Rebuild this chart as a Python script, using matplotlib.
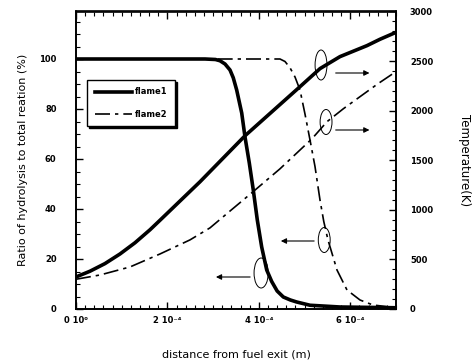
import numpy as np
import matplotlib.pyplot as plt
from matplotlib.patches import Ellipse


# distance along the flame (units of 1e-4 m) and hydrolysis ratio (%)
x_ratio1 = [0, 2.822, 3.05, 3.15, 3.26, 3.369, 3.44, 3.515, 3.625, 3.697, 3.791, 3.878, 3.966,
	4.062, 4.172, 4.281, 4.40, 4.535, 4.69, 4.828, 5.119, 5.775, 7.0]
ratio1 = [100, 100, 99.8, 99.3, 98.0, 95.6, 92.5, 87.6, 78.4, 68.8, 58.4, 47.6, 35.6,
	24.8, 15.6, 11.0, 7.2, 4.8, 3.6, 2.8, 1.5, 0.8, 0.5]

x_ratio2 = [0, 4.4625, 4.572, 4.681, 4.791, 4.9, 5.009, 5.119, 5.228, 5.3375,
	5.42, 5.5125, 5.709, 5.928, 6.2125, 6.497, 7.0]
ratio2 = [100, 100, 99, 96.5, 92.8, 87.6, 78, 67.6, 57, 43.6,
	35, 27.6, 15.6, 7.6, 3.6, 1.6, 0.5]

# temperature (K)
x_temp1 = [0, 0.306, 0.634, 0.9625, 1.291, 1.619, 1.8375, 2.7125, 3.697, 4.244,
	4.9, 5.3375, 5.775, 6.366, 6.65, 7.0]
temp1 = [323, 381, 458, 555, 668, 799, 895, 1283, 1747, 1972,
	2242, 2424, 2545, 2656, 2720, 2790]

x_temp2 = [0, 0.525, 1.181, 1.8375, 2.494, 2.931, 3.4, 3.872, 4.463, 5.1625, 5.491, 5.85,
	6.2125, 6.6, 7.0]
temp2 = [300, 343, 424, 555, 697, 818, 1000, 1182, 1414, 1717, 1889, 2020,
	2141, 2270, 2394]

series_labels = ["flame1", "flame2"]
xtick_vals = [0, 2, 4, 6]
xtick_labels = ["0 10\u2070", "2 10\u207b\u2074", "4 10\u207b\u2074", "6 10\u207b\u2074"]

scale = 1e-4

plt.rcParams["font.family"] = "DejaVu Sans"
plt.rcParams["font.weight"] = "bold"

fig = plt.figure(figsize=(4.76, 3.64), dpi=100)
ax = fig.add_axes([76/476, 55/364, 320/476, 297.5/364])
ax2 = ax.twinx()

dashes = (9, 3, 2, 3)
ax.plot(np.array(x_ratio1)*scale, ratio1, color="black", lw=2.6, label=series_labels[0])
ax.plot(np.array(x_ratio2)*scale, ratio2, color="black", lw=1.2, dashes=dashes, label=series_labels[1])
ax2.plot(np.array(x_temp1)*scale, temp1, color="black", lw=2.6)
ax2.plot(np.array(x_temp2)*scale, temp2, color="black", lw=1.2, dashes=dashes)

ax.set_xlim(0, 7e-4)
ax.set_ylim(0, 119)
ax2.set_ylim(0, 3000)

ax.set_xticks(np.arange(0, 7.01, 0.2)*scale, minor=True)
ax.set_xticks(np.array(xtick_vals)*scale, minor=False)
ax.set_xticklabels(xtick_labels)
ax.set_yticks([0, 20, 40, 60, 80, 100])
ax.set_yticks(np.arange(0, 119, 5), minor=True)
ax2.set_yticks([0, 500, 1000, 1500, 2000, 2500, 3000])
ax2.set_yticks(np.arange(0, 3001, 100), minor=True)

ax.tick_params(axis="both", which="both", direction="in", top=True, right=False, labelsize=6)
ax.tick_params(axis="x", which="major", length=5, width=1, pad=5)
ax.tick_params(axis="y", which="major", length=5, width=1, pad=14)
ax.tick_params(which="minor", length=3, width=0.8)
ax2.tick_params(axis="y", which="both", direction="in", labelsize=6, pad=10)
ax2.tick_params(which="major", length=5, width=1)
ax2.tick_params(which="minor", length=3, width=0.8)

for a in (ax, ax2):
	for s in a.spines.values():
		s.set_linewidth(1.2)

ax.set_xlabel("distance from fuel exit (m)", fontsize=8, labelpad=18)
ax.set_ylabel("Ratio of hydrolysis to total reation (%)", fontsize=8, labelpad=8)
ax2.set_ylabel("Temperature(K)", fontsize=8.5, rotation=-90, labelpad=27)

leg = ax.legend(loc="upper left", bbox_to_anchor=(0.035, 0.77), fontsize=6,
	frameon=True, fancybox=False, shadow={"color": "black", "alpha": 1.0, "ox": 1.5, "oy": -1.5},
	edgecolor="black", handlelength=4.5, labelspacing=1.6, borderpad=0.9,
	handletextpad=0.3, borderaxespad=0)
leg.get_frame().set_linewidth(1.0)

# circled curves with arrows pointing at their axis
circles = [
	(5.36, 97.6, 0.26, 12),
	(5.47, 74.8, 0.26, 10),
	(5.43, 27.6, 0.26, 10),
	(4.05, 14.4, 0.31, 12),
]
for cx, cy, w, h in circles:
	ax.add_patch(Ellipse((cx*scale, cy), w*scale, h, fill=False, lw=0.7, color="black"))

arrows = [
	(5.62, 94.4, 6.48, 94.4),
	(5.62, 71.6, 6.48, 71.6),
	(5.27, 27.2, 4.42, 27.2),
	(3.87, 12.8, 3.0, 12.8),
]
for x0, y0, x1, y1 in arrows:
	ax.annotate("", xy=(x1*scale, y1), xytext=(x0*scale, y0),
		arrowprops=dict(arrowstyle="-|>", color="black", lw=0.8, mutation_scale=8))

fig.savefig("out.png", dpi=100)
